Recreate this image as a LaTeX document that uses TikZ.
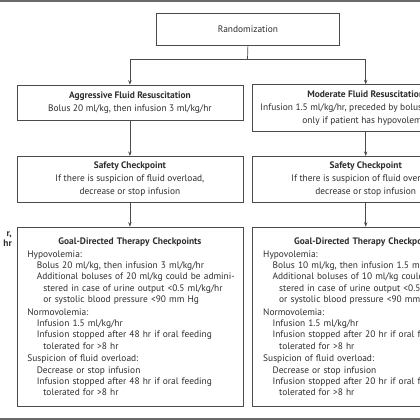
\documentclass[tikz,border=0pt]{standalone}
\usepackage{fontspec}
\setmainfont{PT Sans}
\usetikzlibrary{arrows.meta}
\definecolor{ink}{HTML}{2E2E2E}
\definecolor{linec}{HTML}{4A4A4A}
\definecolor{rulec}{HTML}{6A6A6A}
\begin{document}
\begin{tikzpicture}[x=1pt,y=-1pt,
  every node/.style={text=ink},
  box/.style={draw=linec, line width=0.8pt, anchor=north west, inner sep=0pt,
    minimum width=226pt, align=center, font=\fontsize{9.4}{13}\selectfont},
  goalbox/.style={draw=linec, line width=0.8pt, anchor=north west, inner xsep=10.5pt, inner ysep=0pt,
    text width=205pt, minimum height=179.3pt, align=left, font=\fontsize{9.4}{11.3}\selectfont},
  arr/.style={draw=linec, line width=0.7pt, -{Stealth[length=4.5pt,width=3.4pt]}},
  conn/.style={draw=linec, line width=0.7pt}]
\clip (0,0) rectangle (420,420);
\fill[white] (0,0) rectangle (420,420);
\draw[rulec, line width=1.6pt] (0,0.8) -- (420,0.8);
\draw[rulec, line width=1.6pt] (0,419.2) -- (420,419.2);

\node[box, minimum width=183.6pt, minimum height=32.3pt] (rand) at (155.7,12.7) {Randomization};

\node[box, minimum height=35.3pt] (aggr) at (16.5,84.7)
  {{\bfseries Aggressive Fluid Resuscitation}\\Bolus 20 ml/kg, then infusion 3 ml/kg/hr};
\node[box, minimum height=46.7pt] (mod) at (252.3,84.3)
  {{\bfseries Moderate Fluid Resuscitation}\\Infusion 1.5 ml/kg/hr, preceded by bolus of 10 ml/kg\\only if patient has hypovolemia};

\node[box, minimum height=46.3pt] (safeL) at (16.5,156)
  {{\bfseries Safety Checkpoint}\\If there is suspicion of fluid overload,\\decrease or stop infusion};
\node[box, minimum height=46.3pt] (safeR) at (252.3,156)
  {{\bfseries Safety Checkpoint}\\If there is suspicion of fluid overload,\\decrease or stop infusion};

\node[goalbox] (goalL) at (16.5,226.7)
  {\makebox[\linewidth][c]{\bfseries Goal-Directed Therapy Checkpoints}\\[1.7pt]
   Hypovolemia:\\
   \hspace*{9.4pt}Bolus 20 ml/kg, then infusion 3 ml/kg/hr\\
   \hspace*{9.4pt}\mbox{Additional boluses of 20 ml/kg could be admini-}\\
   \hspace*{16pt}stered in case of urine output <0.5 ml/kg/hr\\
   \hspace*{16pt}or systolic blood pressure <90 mm Hg\\[1.5pt]
   Normovolemia:\\
   \hspace*{9.4pt}Infusion 1.5 ml/kg/hr\\
   \hspace*{9.4pt}Infusion stopped after 48 hr if oral feeding\\
   \hspace*{16pt}tolerated for >8 hr\\[1.5pt]
   Suspicion of fluid overload:\\
   \hspace*{9.4pt}Decrease or stop infusion\\
   \hspace*{9.4pt}Infusion stopped after 48 hr if oral feeding\\
   \hspace*{16pt}tolerated for >8 hr};
\node[goalbox] (goalR) at (252.3,226.7)
  {\makebox[\linewidth][c]{\bfseries Goal-Directed Therapy Checkpoints}\\[1.7pt]
   Hypovolemia:\\
   \hspace*{9.4pt}\mbox{Bolus 10 ml/kg, then infusion 1.5 ml/kg/hr}\\
   \hspace*{9.4pt}\mbox{Additional boluses of 10 ml/kg could be admini-}\\
   \hspace*{16pt}\mbox{stered in case of urine output <0.5 ml/kg/hr}\\
   \hspace*{16pt}or systolic blood pressure <90 mm Hg\\[1.5pt]
   Normovolemia:\\
   \hspace*{9.4pt}Infusion 1.5 ml/kg/hr\\
   \hspace*{9.4pt}Infusion stopped after 20 hr if oral feeding\\
   \hspace*{16pt}tolerated for >8 hr\\[1.5pt]
   Suspicion of fluid overload:\\
   \hspace*{9.4pt}Decrease or stop infusion\\
   \hspace*{9.4pt}Infusion stopped after 20 hr if oral feeding\\
   \hspace*{16pt}tolerated for >8 hr};

\node[anchor=north east, align=right, inner sep=0pt, font=\fontsize{9.4}{10}\selectfont\bfseries] (side) at (12,231) {r,\\hr};

\coordinate (split) at (247.5,59.3);
\draw[conn] (rand.south) -- (split);
\draw[arr] (split) -| (aggr.north);
\draw[arr] (split) -| (mod.north);
\draw[arr] (aggr.south) -- (safeL.north);
\draw[arr] (mod.south) -- (safeR.north);
\draw[arr] (safeL.south) -- (goalL.north);
\draw[arr] (safeR.south) -- (goalR.north);
\end{tikzpicture}
\end{document}
